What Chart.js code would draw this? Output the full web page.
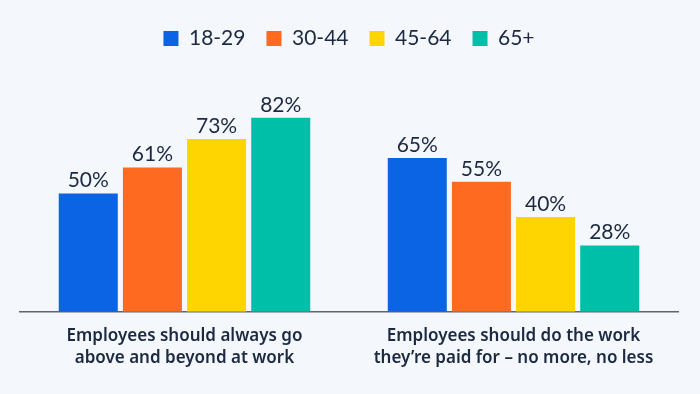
<!DOCTYPE html>
<html>
<head>
<meta charset="utf-8">
<script src="https://cdn.jsdelivr.net/npm/chart.js@4.4.1/dist/chart.umd.min.js"></script>
<style>
  html, body { margin: 0; padding: 0; background: #f4f7fb; }
  #wrap { width: 700px; height: 394px; position: relative; }
</style>
</head>
<body>
<div id="wrap"><canvas id="c"></canvas></div>
<script>
const categories = [
  ["Employees should always go", "above and beyond at work"],
  ["Employees should do the work", "they\u2019re paid for \u2013 no more, no less"]
];
const seriesNames = ["18-29", "30-44", "45-64", "65+"];
const values1829 = [50, 65];
const values3044 = [61, 55];
const values4564 = [73, 40];
const values65plus = [82, 28];
const seriesColors = ["#0a64e4", "#ff6a21", "#ffd500", "#00bfa8"];

const allValues = [values1829, values3044, values4564, values65plus];
const textColor = "#1c2942";
const numFont = "Lato, 'Noto Sans', sans-serif";
const labelFont = "'Noto Sans', Lato, sans-serif";

const valueLabels = {
  id: "valueLabels",
  afterDatasetsDraw(chart) {
    const ctx = chart.ctx;
    ctx.save();
    ctx.font = "400 21px " + numFont;
    ctx.fillStyle = textColor;
    ctx.textAlign = "center";
    ctx.textBaseline = "alphabetic";
    chart.data.datasets.forEach((ds, i) => {
      chart.getDatasetMeta(i).data.forEach((bar, j) => {
        ctx.fillText(ds.data[j] + "%", bar.x, bar.y - 6);
      });
    });
    ctx.restore();
  }
};

new Chart(document.getElementById("c"), {
  type: "bar",
  data: {
    labels: categories,
    datasets: seriesNames.map((name, i) => ({
      label: name,
      data: allValues[i],
      backgroundColor: seriesColors[i],
      borderWidth: 0,
      barPercentage: 0.92,
      categoryPercentage: 0.78
    }))
  },
  options: {
    responsive: true,
    maintainAspectRatio: false,
    animation: false,
    layout: { padding: { left: 20, right: 22, top: 7, bottom: 19.5 } },
    plugins: {
      tooltip: { enabled: false },
      legend: {
        position: "top",
        labels: {
          boxWidth: 15, boxHeight: 15, padding: 21,
          color: textColor,
          font: { family: numFont, size: 21, weight: "400" }
        }
      }
    },
    scales: {
      x: {
        grid: { display: false },
        border: { display: true, color: "#5d6673", width: 1.5 },
        ticks: {
          color: textColor, padding: 6, maxRotation: 0, autoSkip: false,
          font: { family: labelFont, size: 17, weight: "600", lineHeight: 1.26 }
        }
      },
      y: { display: false, min: 0, max: 106.9 }
    }
  },
  plugins: [valueLabels]
});
</script>
</body>
</html>
